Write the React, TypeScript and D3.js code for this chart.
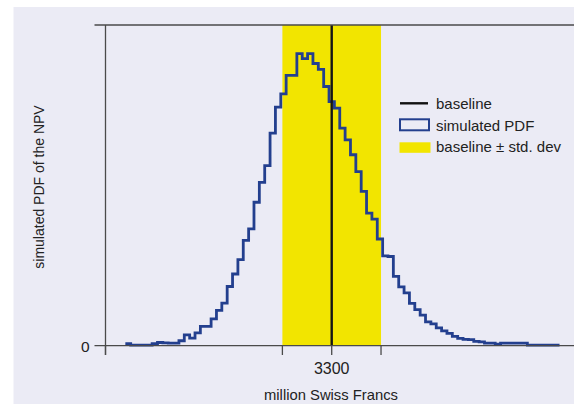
import React from 'react';
import * as d3 from 'd3';

// ---- data ----
const binStart = 1375; // million CHF
const binWidth = 50;
const pdfValues = [
  0.7, 0.2, 0.2, 0.2, 0.2, 0.7, 1.1, 1.0, 0.9, 0.9,
  1.7, 3.7, 2.6, 4.4, 6.6, 6.6, 9.2, 12.1, 14.6, 20.3,
  24.6, 29.5, 36.1, 40.1, 49.2, 56.0, 61.8, 72.9, 81.8, 86.4,
  92.7, 92.7, 100.2, 98.5, 100.2, 96.8, 94.8, 88.9, 83.7, 81.5,
  74.6, 70.6, 65.5, 59.7, 52.9, 45.5, 43.4, 36.6, 30.8, 30.6,
  23.8, 20.2, 18.1, 14.5, 12.4, 10.5, 8.2, 7.5, 6.1, 5.1,
  4.2, 3.2, 2.5, 2.2, 2.1, 1.5, 1.3, 0.9, 0.9, 0.5,
  0.9, 0.9, 0.9, 0.9, 0.9, 0.2, 0.2, 0.2, 0.2, 0.2,
  0.2,
];
const baselineValue = 3300;
const stdDev = 460;
const xDomain = [1190, 5560];
const yDomain = [0, 110];
const xTickLabels = ['3300'];
const yTickLabels = ['0'];
const legendLabels = ['baseline', 'simulated PDF', 'baseline \u00b1 std. dev'];
const xAxisTitle = 'million Swiss Francs';
const yAxisTitle = 'simulated PDF of the NPV';

// ---- styles ----
const W = 574;
const H = 404;
const BG = '#ebebf5';
const YELLOW = '#f2e500';
const BLUE = '#233f8e';
const AXIS = '#4a4a4a';
const FONT = '"Liberation Sans", Arial, sans-serif';

export default function App() {
  const x = d3.scaleLinear().domain(xDomain).range([105.5, W]);
  const y = d3.scaleLinear().domain(yDomain).range([345.7, 25]);

  const pts: [number, number][] = pdfValues.map((v, i) => [binStart + i * binWidth, v]);
  pts.push([binStart + pdfValues.length * binWidth, pdfValues[pdfValues.length - 1]]);
  const line = d3
    .line<[number, number]>()
    .x((d) => x(d[0]))
    .y((d) => y(d[1]))
    .curve(d3.curveStepAfter);

  const lo = baselineValue - stdDev;
  const hi = baselineValue + stdDev;
  const y0 = y(0);
  const yTop = y(yDomain[1]);
  const xLeft = x(xDomain[0]);
  const xTicks = [xDomain[0], lo, baselineValue, hi];

  return (
    <svg
      width={W}
      height={H}
      style={{ position: 'absolute', left: 0, top: 0, display: 'block' }}
      fontFamily={FONT}
    >
      <rect x={0} y={0} width={W} height={H} fill="#ffffff" />
      <rect x={13.5} y={7} width={W - 13.5} height={H - 7} fill={BG} />

      {/* std dev band */}
      <rect x={x(lo)} y={yTop} width={x(hi) - x(lo)} height={y0 - yTop} fill={YELLOW} />

      {/* simulated pdf */}
      <path d={line(pts) || ''} fill="none" stroke={BLUE} strokeWidth={2.8} strokeLinejoin="miter" />

      {/* baseline */}
      <line x1={x(baselineValue)} x2={x(baselineValue)} y1={yTop} y2={y0} stroke="#151515" strokeWidth={2.4} />

      {/* axes */}
      <line x1={xLeft} x2={xLeft} y1={yTop} y2={355} stroke={AXIS} strokeWidth={1.3} />
      <line x1={94.5} x2={W} y1={yTop} y2={yTop} stroke={AXIS} strokeWidth={1.3} />
      <line x1={94.5} x2={W} y1={y0} y2={y0} stroke={AXIS} strokeWidth={1.3} />
      {xTicks.map((t, i) => (
        <line key={i} x1={x(t)} x2={x(t)} y1={y0} y2={355} stroke={AXIS} strokeWidth={1.3} />
      ))}
      <text x={89.5} y={352} textAnchor="end" fontSize={15.5} fill="#222">
        {yTickLabels[0]}
      </text>
      <text x={x(baselineValue)} y={374} textAnchor="middle" fontSize={16} fill="#222">
        {xTickLabels[0]}
      </text>
      <text x={331} y={399.5} textAnchor="middle" fontSize={14.8} fill="#222">
        {xAxisTitle}
      </text>
      <text
        transform={`translate(44,187) rotate(-90)`}
        textAnchor="middle"
        fontSize={14}
        fill="#222"
      >
        {yAxisTitle}
      </text>

      {/* legend */}
      <line x1={400} x2={428} y1={103.3} y2={103.3} stroke="#111" strokeWidth={2.4} />
      <rect x={400} y={119.3} width={29} height={11} fill="none" stroke={BLUE} strokeWidth={2} />
      <rect x={399.5} y={142.3} width={31} height={10.5} fill={YELLOW} />
      {legendLabels.map((l, i) => (
        <text key={l} x={436} y={109.3 + i * 21.5} fontSize={15} fill="#222">
          {l}
        </text>
      ))}
    </svg>
  );
}
